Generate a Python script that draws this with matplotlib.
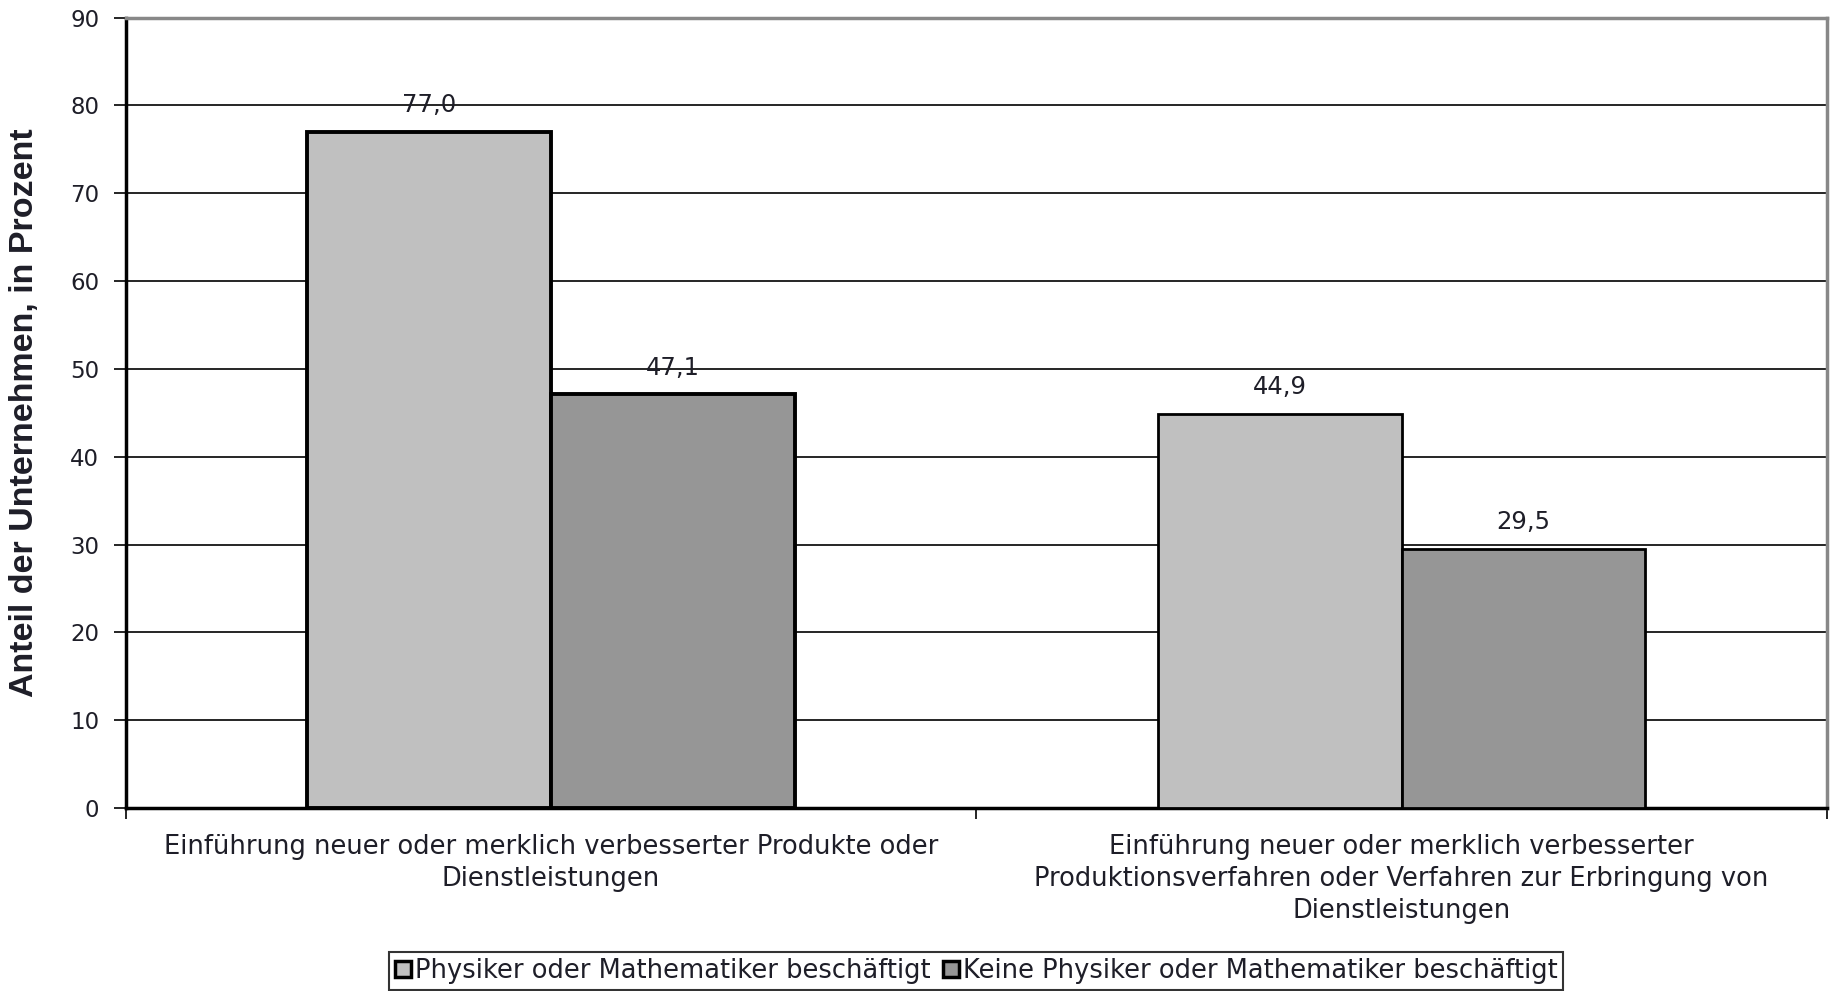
import matplotlib
matplotlib.use("Agg")
import matplotlib.pyplot as plt
from matplotlib.patches import Patch

categories = ["Einführung neuer oder merklich verbesserter Produkte oder\nDienstleistungen",
              "Einführung neuer oder merklich verbesserter\nProduktionsverfahren oder Verfahren zur Erbringung von\nDienstleistungen"]
series_names = ["Physiker oder Mathematiker beschäftigt", "Keine Physiker oder Mathematiker beschäftigt"]
physiker = [77.0, 44.9]
keine = [47.1, 29.5]
yticks = [0, 10, 20, 30, 40, 50, 60, 70, 80, 90]

plt.rcParams['font.family'] = ['DejaVu Sans']
txt = '#1e1e28'
FS = 17.5
FSX = 18.5

fig = plt.figure(figsize=(18.35, 9.91), dpi=100)
ax = fig.add_axes([0.0684, 0.1847, 0.9272, 0.7975])

w = 0.2865
x = [0, 1]
colors = ['#C0C0C0', '#969696']
lws = [2.8, 2.0]
for i, (vals, c) in enumerate(zip([physiker, keine], colors)):
    off = -w / 2 if i == 0 else w / 2
    for j, v in enumerate(vals):
        ax.bar(x[j] + off, v, width=w, color=c, edgecolor='black', linewidth=lws[j], zorder=3)
        ax.annotate(f"{v:.1f}".replace('.', ','), (x[j] + off, v), xytext=(0, 10.5),
                    textcoords='offset points', ha='center', va='bottom', fontsize=FS, color=txt)

ax.set_xlim(-0.5, 1.5)
ax.set_ylim(0, 90)
ax.set_yticks(yticks)
ax.set_yticklabels([str(t) for t in yticks], fontsize=16.5, color=txt)
ax.yaxis.grid(True, color='black', linewidth=1.2, zorder=0)
ax.set_axisbelow(True)
ax.tick_params(axis='y', direction='out', length=9, width=1.2, pad=10)
ax.set_xticks([-0.5, 0.5, 1.5])
ax.set_xticklabels([])
ax.tick_params(axis='x', direction='out', length=8, width=1.2)

for s in ['left', 'bottom']:
    ax.spines[s].set_color('black')
    ax.spines[s].set_linewidth(2.5)
for s in ['top', 'right']:
    ax.spines[s].set_color('#888888')
    ax.spines[s].set_linewidth(2.5)

for j, lab in enumerate(categories):
    ax.text(x[j], -3.0, lab, ha='center', va='top', fontsize=FSX, color=txt,
            linespacing=1.28, transform=ax.transData)

ax.set_ylabel("Anteil der Unternehmen, in Prozent", fontsize=24.5, fontweight='bold',
              color=txt, family='Liberation Sans')
ax.yaxis.set_label_coords(-0.0505, 0.5)

handles = [Patch(facecolor=c, edgecolor='black', linewidth=2.5) for c in colors]
leg = fig.legend(handles, series_names, loc='center', bbox_to_anchor=(0.532, 0.0203),
                 ncol=2, fontsize=FSX, frameon=True, fancybox=False, edgecolor='black',
                 handlelength=0.62, handleheight=0.62, handletextpad=0.15, columnspacing=0.5,
                 borderpad=0.22, borderaxespad=0)
leg.get_frame().set_linewidth(1.5)
for t in leg.get_texts():
    t.set_color(txt)

fig.savefig("out.png", dpi=100)
